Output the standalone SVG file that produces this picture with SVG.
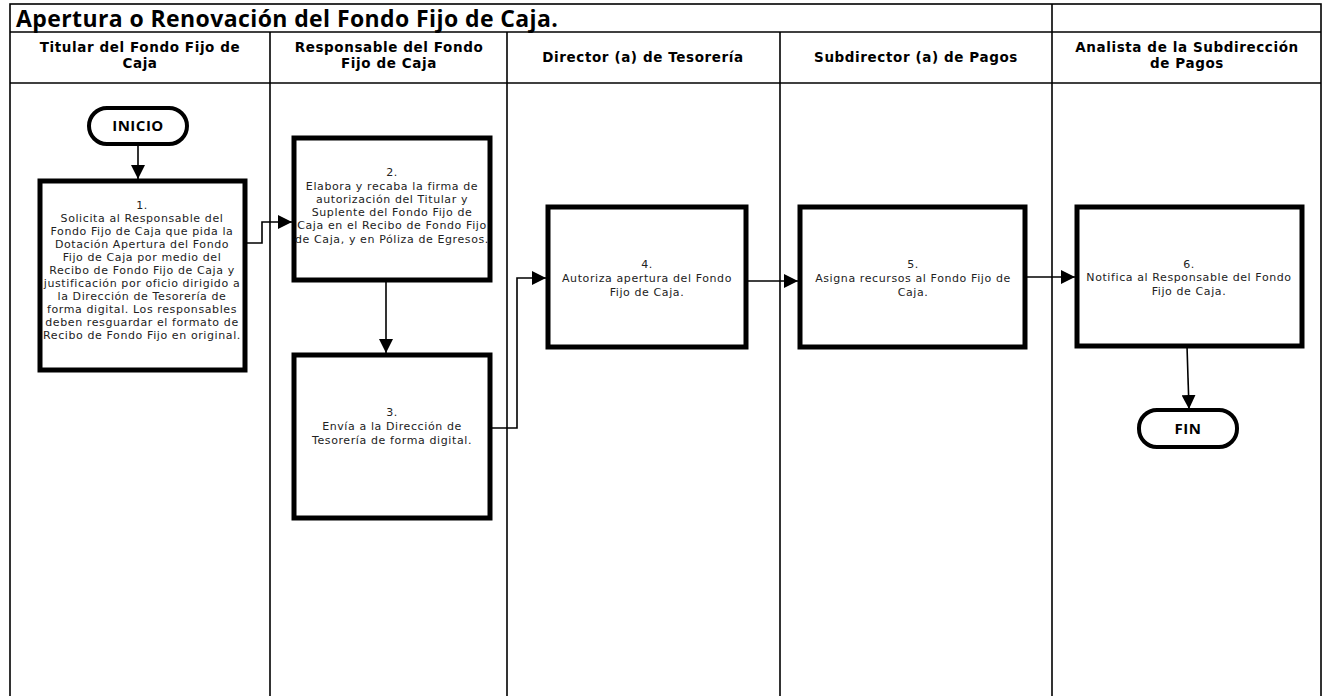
<svg xmlns="http://www.w3.org/2000/svg" width="1322" height="696" viewBox="0 0 1322 696">
<style>
.grid{stroke:#000;stroke-width:1.6;fill:none}
.box{fill:#fff;stroke:#000;stroke-width:5}
.term{fill:#fff;stroke:#000;stroke-width:4}
.t{font-family:"DejaVu Sans","Open Sans",sans-serif;font-size:11px;letter-spacing:0.6px;fill:#222;text-anchor:middle}
.h{font-family:"DejaVu Sans","Open Sans",sans-serif;font-size:13.5px;letter-spacing:0.6px;font-weight:bold;fill:#000;text-anchor:middle}
.ttl{font-family:"Open Sans","Liberation Sans",sans-serif;font-size:23px;letter-spacing:0.4px;font-weight:bold;fill:#000}
.tt{font-family:"Open Sans","Liberation Sans",sans-serif;font-size:15px;letter-spacing:0.5px;font-weight:bold;fill:#000;text-anchor:middle}
.c{stroke:#000;stroke-width:1.6;fill:none;marker-end:url(#ah)}
</style>
<defs>
<marker id="ah" markerWidth="14" markerHeight="14" refX="14" refY="7" orient="auto" markerUnits="userSpaceOnUse" viewBox="0 0 14 14">
<path d="M0,0 L14,7 L0,14 z" fill="#000"/>
</marker>
</defs>
<rect width="1322" height="696" fill="#fff"/>
<g id="table">
<rect class="grid" x="10" y="4" width="1311" height="700"/>
<line class="grid" x1="10" y1="32" x2="1321" y2="32"/>
<line class="grid" x1="10" y1="83" x2="1321" y2="83"/>
<line class="grid" x1="1052" y1="4" x2="1052" y2="696"/>
<line class="grid" x1="270" y1="32" x2="270" y2="696"/>
<line class="grid" x1="507" y1="32" x2="507" y2="696"/>
<line class="grid" x1="780" y1="32" x2="780" y2="696"/>
<text class="ttl" x="16" y="27">Apertura o Renovación del Fondo Fijo de Caja.</text>
<text class="h" x="140" y="52">Titular del Fondo Fijo de</text>
<text class="h" x="140" y="68">Caja</text>
<text class="h" x="389" y="52">Responsable del Fondo</text>
<text class="h" x="389" y="68">Fijo de Caja</text>
<text class="h" x="643" y="62">Director (a) de Tesorería</text>
<text class="h" x="916" y="62">Subdirector (a) de Pagos</text>
<text class="h" x="1187" y="52">Analista de la Subdirección</text>
<text class="h" x="1187" y="68">de Pagos</text>
</g>
<g id="connectors">
<line class="c" x1="138" y1="145" x2="138" y2="179"/>
<polyline class="c" points="245,243 262,243 262,222 292,222"/>
<line class="c" x1="386" y1="281" x2="386" y2="353"/>
<polyline class="c" points="490,428 517,428 517,278 546,278"/>
<line class="c" x1="746" y1="281" x2="798" y2="281"/>
<line class="c" x1="1025" y1="277" x2="1075" y2="277"/>
<line class="c" x1="1187" y1="346" x2="1189" y2="409"/>
</g>
<g id="inicio">
<rect class="term" x="89" y="108" width="98" height="36" rx="18"/>
<text class="tt" x="138" y="131">INICIO</text>
</g>
<g id="n1">
<rect class="box" x="40" y="181" width="205" height="189"/>
<text class="t"><tspan x="142" y="209">1.</tspan><tspan x="142" y="222">Solicita al Responsable del</tspan><tspan x="142" y="235">Fondo Fijo de Caja que pida la</tspan><tspan x="142" y="248">Dotación Apertura del Fondo</tspan><tspan x="142" y="261">Fijo de Caja por medio del</tspan><tspan x="142" y="274">Recibo de Fondo Fijo de Caja y</tspan><tspan x="142" y="287">justificación por oficio dirigido a</tspan><tspan x="142" y="300">la Dirección de Tesorería de</tspan><tspan x="142" y="313">forma digital. Los responsables</tspan><tspan x="142" y="326">deben resguardar el formato de</tspan><tspan x="142" y="339">Recibo de Fondo Fijo en original.</tspan></text>
</g>
<g id="n2">
<rect class="box" x="294" y="138" width="196" height="142"/>
<text class="t"><tspan x="392" y="176">2.</tspan><tspan x="392" y="190">Elabora y recaba la firma de</tspan><tspan x="392" y="203">autorización del Titular y</tspan><tspan x="392" y="216">Suplente del Fondo Fijo de</tspan><tspan x="392" y="229">Caja en el Recibo de Fondo Fijo</tspan><tspan x="392" y="243">de Caja, y en Póliza de Egresos.</tspan></text>
</g>
<g id="n3">
<rect class="box" x="294" y="355" width="196" height="163"/>
<text class="t"><tspan x="392" y="416">3.</tspan><tspan x="392" y="430">Envía a la Dirección de</tspan><tspan x="392" y="444">Tesorería de forma digital.</tspan></text>
</g>
<g id="n4">
<rect class="box" x="548" y="207" width="198" height="140"/>
<text class="t"><tspan x="647" y="268">4.</tspan><tspan x="647" y="282">Autoriza apertura del Fondo</tspan><tspan x="647" y="296">Fijo de Caja.</tspan></text>
</g>
<g id="n5">
<rect class="box" x="800" y="207" width="225" height="140"/>
<text class="t"><tspan x="913" y="268">5.</tspan><tspan x="913" y="282">Asigna recursos al Fondo Fijo de</tspan><tspan x="913" y="296">Caja.</tspan></text>
</g>
<g id="n6">
<rect class="box" x="1077" y="207" width="225" height="139"/>
<text class="t"><tspan x="1189" y="268">6.</tspan><tspan x="1189" y="281">Notifica al Responsable del Fondo</tspan><tspan x="1189" y="295">Fijo de Caja.</tspan></text>
</g>
<g id="fin">
<rect class="term" x="1139" y="410" width="98" height="37" rx="18"/>
<text class="tt" x="1188" y="434">FIN</text>
</g>
</svg>
